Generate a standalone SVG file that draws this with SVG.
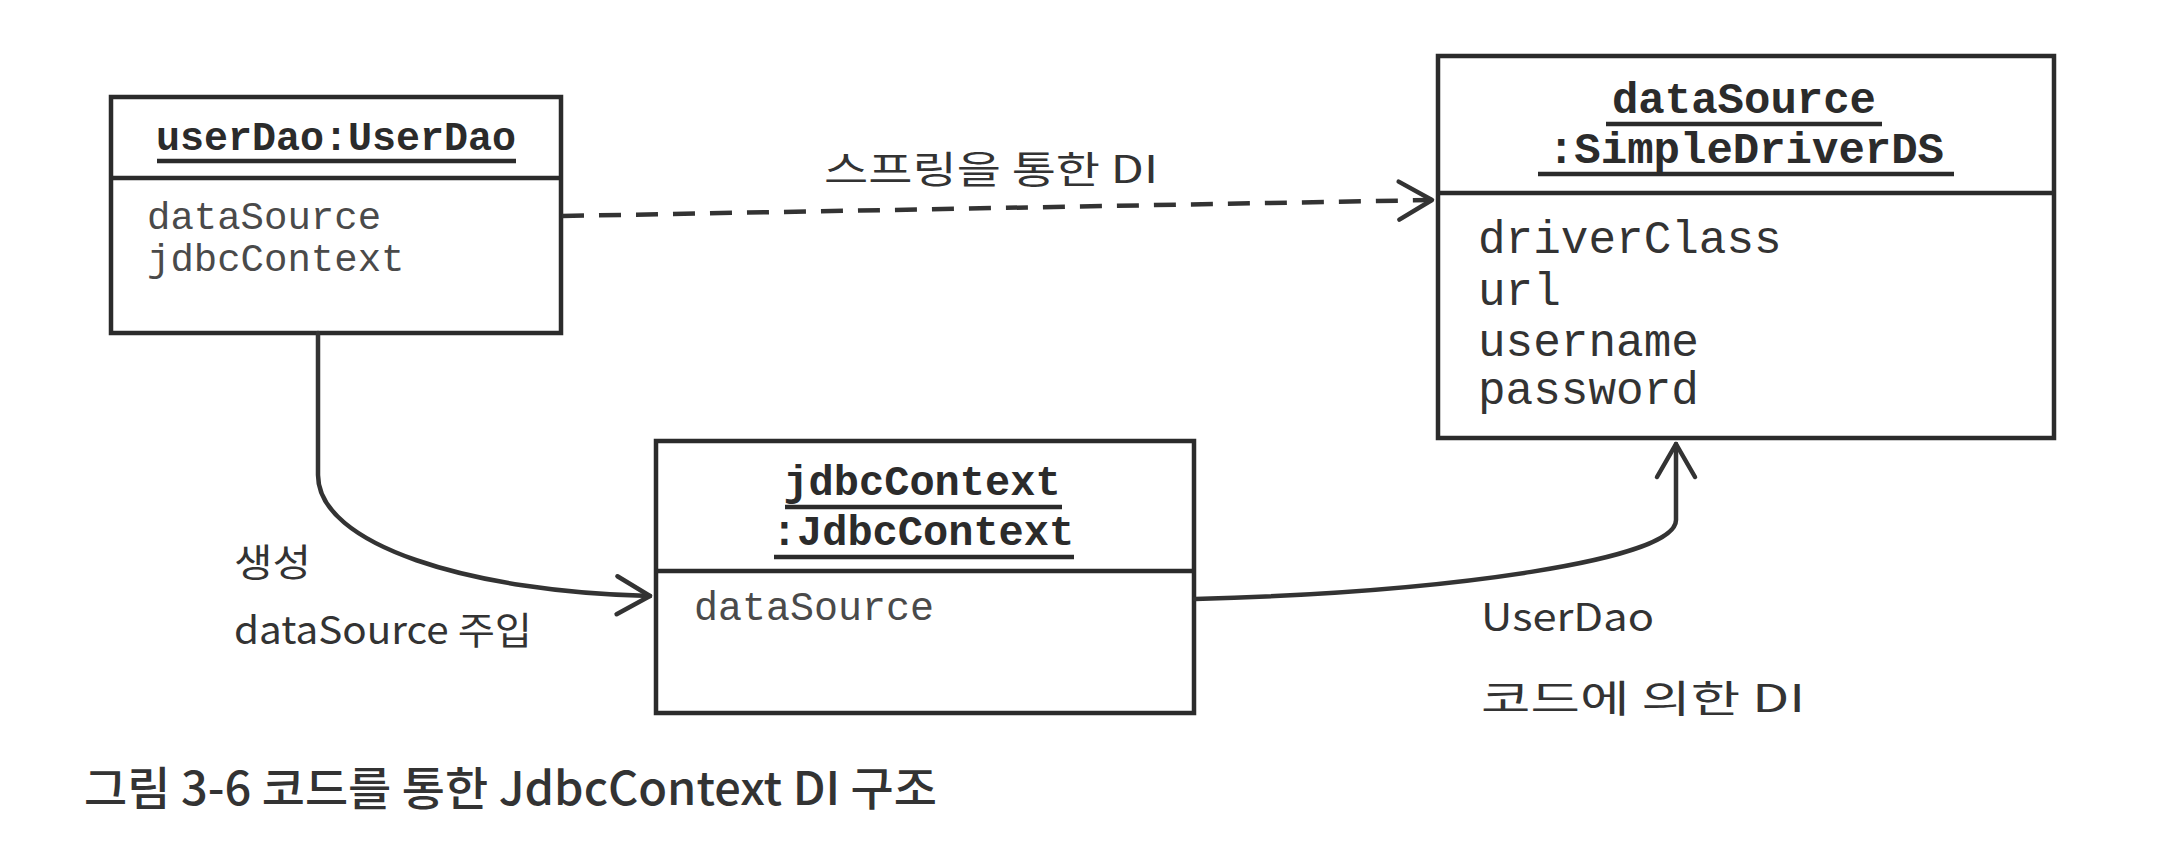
<svg xmlns="http://www.w3.org/2000/svg" width="2166" height="851" viewBox="0 0 2166 851">
<style>
.box{fill:#fff;stroke:#2b2b2b;stroke-width:4.5}
.div{stroke:#2b2b2b;stroke-width:4.5}
.ul{stroke:#2b2b2b;stroke-width:4.5}
.ttl{font-family:'Liberation Mono','Courier New',monospace;font-weight:bold;fill:#2b2b2b;text-anchor:middle}
.att{font-family:'Liberation Mono','Courier New',monospace;fill:#4a4a4a}
.att2{font-family:'Liberation Mono','Courier New',monospace;fill:#333}
.lbl{font-family:'Noto Sans CJK KR','Noto Sans',sans-serif;fill:#333;font-size:38px}
.cap{font-family:'Noto Sans CJK KR','Noto Sans',sans-serif;fill:#333;font-size:46px;font-weight:500}
.con{fill:none;stroke:#333;stroke-width:4.5;stroke-linecap:round}
.dash{stroke-dasharray:22 15;stroke-linecap:butt}
</style>
<defs>
<marker id="arr" markerUnits="userSpaceOnUse" markerWidth="60" markerHeight="60" viewBox="-40 -30 50 60" refX="0" refY="0" orient="auto">
<path d="M-33,-19 L0,0 L-33,19" fill="none" stroke="#333" stroke-width="4.5" stroke-linecap="round" stroke-linejoin="round" stroke-dasharray="none"/>
</marker>
</defs>
<rect width="2166" height="851" fill="#fff"/>

<g id="userDao">
<rect class="box" x="111" y="97" width="450" height="236"/>
<line class="div" x1="111" y1="178" x2="561" y2="178"/>
<text class="ttl" x="336" y="150" font-size="40">userDao:UserDao</text>
<line class="ul" x1="157" y1="161" x2="516" y2="161"/>
<text class="att" x="147" y="229" font-size="39">dataSource</text>
<text class="att" x="147" y="271" font-size="39">jdbcContext</text>
</g>

<g id="dataSource">
<rect class="box" x="1438" y="56" width="616" height="382"/>
<line class="div" x1="1438" y1="193" x2="2054" y2="193"/>
<text class="ttl" x="1744" y="113" font-size="44">dataSource</text>
<line class="ul" x1="1606" y1="124" x2="1882" y2="124"/>
<text class="ttl" x="1746" y="163" font-size="44">:SimpleDriverDS</text>
<line class="ul" x1="1538" y1="174" x2="1954" y2="174"/>
<text class="att2" x="1478" y="253" font-size="46">driverClass</text>
<text class="att2" x="1478" y="305" font-size="46">url</text>
<text class="att2" x="1478" y="356" font-size="46">username</text>
<text class="att2" x="1478" y="404" font-size="46">password</text>
</g>

<g id="jdbcContext">
<rect class="box" x="656" y="441" width="538" height="272"/>
<line class="div" x1="656" y1="571" x2="1194" y2="571"/>
<text class="ttl" x="922" y="495" font-size="42">jdbcContext</text>
<line class="ul" x1="785" y1="507" x2="1062" y2="507"/>
<text class="ttl" x="923" y="545" font-size="42">:JdbcContext</text>
<line class="ul" x1="774" y1="557" x2="1074" y2="557"/>
<text class="att" x="694" y="620" font-size="40">dataSource</text>
</g>

<g id="connectors">
<path class="con dash" d="M562,216 L1432,200" marker-end="url(#arr)"/>
<path class="con" d="M318,333 L318,475 C318,545 470,592 650,596" marker-end="url(#arr)"/>
<path class="con" d="M1195,599 C1450,592 1676,560 1676,520 L1676,444" marker-end="url(#arr)"/>
</g>

<g id="labels">
<text class="lbl" x="824" y="183" textLength="334" lengthAdjust="spacingAndGlyphs">스프링을 통한 DI</text>
<text class="lbl" x="234" y="576" textLength="77" lengthAdjust="spacingAndGlyphs">생성</text>
<text class="lbl" x="234" y="644" textLength="298" lengthAdjust="spacingAndGlyphs">dataSource 주입</text>
<text class="lbl" x="1481" y="631" textLength="173" lengthAdjust="spacingAndGlyphs">UserDao</text>
<text class="lbl" x="1481" y="712" textLength="324" lengthAdjust="spacingAndGlyphs">코드에 의한 DI</text>
<text class="cap" x="84" y="805" textLength="853" lengthAdjust="spacingAndGlyphs">그림 3-6 코드를 통한 JdbcContext DI 구조</text>
</g>
</svg>
